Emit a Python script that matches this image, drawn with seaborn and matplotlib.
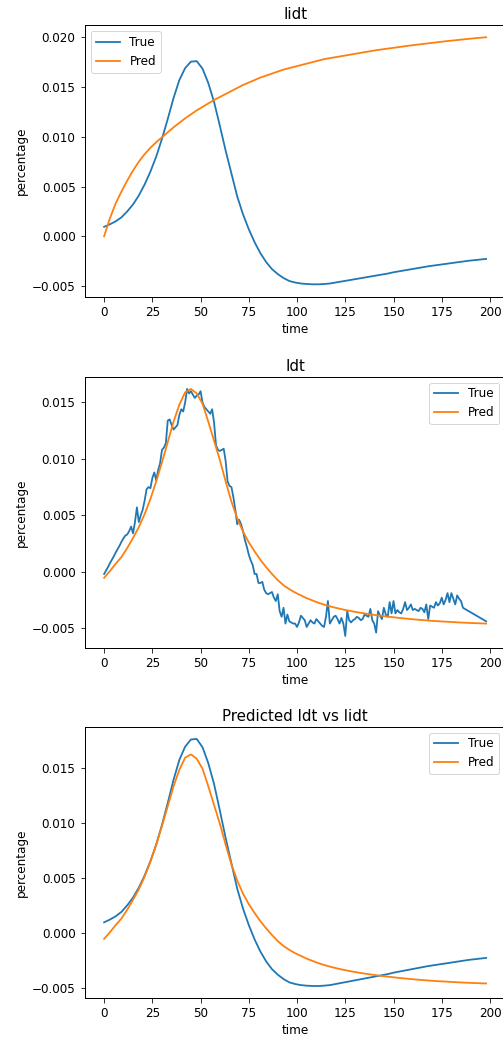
import numpy as np
import matplotlib
matplotlib.use("Agg")
import matplotlib.pyplot as plt
import seaborn as sns

# %%
# Dados (valores em milésimos -> divididos por 1000)
t_smooth = np.arange(0, 199, 3)

iidt_true = np.array([
    0.95, 1.2, 1.5, 1.9, 2.5, 3.2, 4.1, 5.2, 6.5, 8.0,
    9.8, 11.8, 13.9, 15.7, 16.9, 17.55, 17.6, 16.85, 15.4, 13.5,
    11.1, 8.6, 6.3, 4.0, 2.2, 0.7, -0.6, -1.7, -2.6, -3.3,
    -3.8, -4.2, -4.5, -4.65, -4.75, -4.8, -4.83, -4.83, -4.8, -4.75,
    -4.65, -4.55, -4.45, -4.35, -4.25, -4.15, -4.05, -3.95, -3.85, -3.75,
    -3.62, -3.52, -3.42, -3.32, -3.22, -3.12, -3.02, -2.94, -2.86, -2.78,
    -2.7, -2.62, -2.54, -2.46, -2.4, -2.34, -2.28]) / 1000

iidt_pred = np.array([
    0.0, 1.8, 3.3, 4.5, 5.6, 6.6, 7.5, 8.25, 8.9, 9.45,
    9.95, 10.45, 10.95, 11.4, 11.85, 12.25, 12.65, 13.0, 13.35, 13.7,
    14.0, 14.3, 14.6, 14.9, 15.2, 15.45, 15.7, 15.95, 16.15, 16.35,
    16.55, 16.75, 16.9, 17.05, 17.2, 17.35, 17.5, 17.65, 17.8, 17.9,
    18.0, 18.1, 18.2, 18.3, 18.4, 18.5, 18.6, 18.7, 18.78, 18.86,
    18.94, 19.02, 19.1, 19.18, 19.25, 19.32, 19.39, 19.46, 19.53, 19.6,
    19.66, 19.72, 19.78, 19.84, 19.9, 19.95, 20.0]) / 1000

idt_pred = np.array([
    -0.55, 0.05, 0.7, 1.3, 2.1, 3.0, 3.95, 5.1, 6.45, 8.0,
    9.7, 11.5, 13.3, 14.8, 15.9, 16.2, 15.8, 14.9, 13.3, 11.6,
    9.9, 8.0, 6.2, 4.75, 3.55, 2.6, 1.8, 1.05, 0.4, -0.2,
    -0.75, -1.2, -1.55, -1.85, -2.1, -2.35, -2.55, -2.75, -2.92, -3.07,
    -3.2, -3.32, -3.43, -3.53, -3.62, -3.7, -3.78, -3.85, -3.92, -3.98,
    -4.04, -4.1, -4.15, -4.2, -4.25, -4.29, -4.33, -4.37, -4.4, -4.43,
    -4.46, -4.49, -4.52, -4.54, -4.56, -4.58, -4.6]) / 1000

# série ruidosa (Idt real), t = 0..186 e depois 198
t_idt = np.r_[np.arange(187), 198]
idt_true = np.array([
    -0.2, 0.1, 0.4, 0.75, 1.05, 1.35, 1.7, 2.0, 2.3, 2.65,
    2.95, 3.2, 3.3, 3.6, 4.0, 3.4, 4.4, 5.7, 4.4, 5.0,
    5.5, 6.3, 7.3, 7.5, 7.4, 8.3, 8.8, 8.1, 9.0, 9.6,
    10.8, 11.0, 11.4, 13.4, 13.5, 13.0, 12.6, 12.8, 13.0, 13.9,
    14.4, 14.2, 15.0, 16.2, 15.8, 16.0, 15.7, 15.4, 15.6, 15.7,
    16.0, 15.0, 14.6, 14.4, 14.2, 14.0, 14.4, 13.2, 11.2, 10.8,
    10.7, 10.8, 10.9, 9.8, 8.0, 7.6, 7.5, 6.6, 5.5, 4.2,
    4.6, 4.2, 3.6, 2.8, 2.2, 1.5, 1.0, 0.6, -0.2, -0.2,
    -1.0, -1.0, -0.9, -1.6, -1.9, -2.0, -1.9, -1.8, -2.3, -2.6,
    -2.0, -3.5, -4.0, -3.2, -4.6, -3.8, -4.4, -4.5, -4.6, -4.6,
    -4.9, -4.5, -3.9, -4.1, -4.3, -4.9, -4.6, -4.3, -4.5, -4.6,
    -4.2, -4.4, -4.6, -4.8, -4.9, -4.0, -2.6, -4.6, -4.3, -4.0,
    -3.9, -4.2, -4.6, -4.1, -4.6, -5.7, -3.5, -4.3, -4.5, -4.3,
    -4.2, -4.0, -4.1, -4.3, -4.2, -3.8, -3.9, -4.0, -3.3, -4.3,
    -4.6, -5.4, -3.5, -3.9, -4.2, -3.2, -3.8, -4.0, -2.7, -3.7,
    -2.6, -3.7, -3.4, -3.6, -3.7, -3.3, -2.7, -3.4, -3.2, -2.9,
    -3.4, -3.3, -3.4, -3.5, -3.2, -3.3, -3.6, -2.9, -4.2, -3.0,
    -3.1, -3.2, -2.7, -3.0, -2.8, -2.3, -2.9, -2.5, -1.9, -2.7,
    -1.9, -2.4, -2.9, -2.1, -2.4, -2.6, -3.2,
    -4.4]) / 1000

# %%
# o original parece ampliado ~1.2x: fontes e linhas um pouco maiores
plt.rcParams.update({
    "font.size": 12,
    "axes.titlesize": 15,
    "lines.linewidth": 1.8,
    "xtick.major.size": 4.5,
    "ytick.major.size": 4.5,
    "xtick.major.pad": 4.5,
    "ytick.major.pad": 5,
    "axes.linewidth": 1.0,
})

fig, axs = plt.subplots(3, 1, figsize=(503 / 72, 1038 / 72), dpi=72)

# posições dos eixos (o lado direito fica cortado como no original)
bottoms = [0.7142, 0.3754, 0.0382]
for ax, b in zip(axs, bottoms):
    ax.set_position([0.169, b, 0.8354, 0.2618])

paineis = [
    ("Iidt", (t_smooth, iidt_true), (t_smooth, iidt_pred), "upper left"),
    ("Idt", (t_idt, idt_true), (t_smooth, idt_pred), "upper right"),
    ("Predicted Idt vs Iidt", (t_smooth, iidt_true), (t_smooth, idt_pred), "upper right"),
]

for ax, (titulo, real, pred, loc) in zip(axs, paineis):
    sns.lineplot(x=real[0], y=real[1], ax=ax, color="tab:blue", label="True")
    sns.lineplot(x=pred[0], y=pred[1], ax=ax, color="tab:orange", label="Pred")
    ax.set_title(titulo)
    ax.set_xlabel("time")
    ax.set_ylabel("percentage")
    ax.set_xticks([0, 25, 50, 75, 100, 125, 150, 175, 200])
    ax.legend(loc=loc)

fig.savefig("out.png", dpi=72)
